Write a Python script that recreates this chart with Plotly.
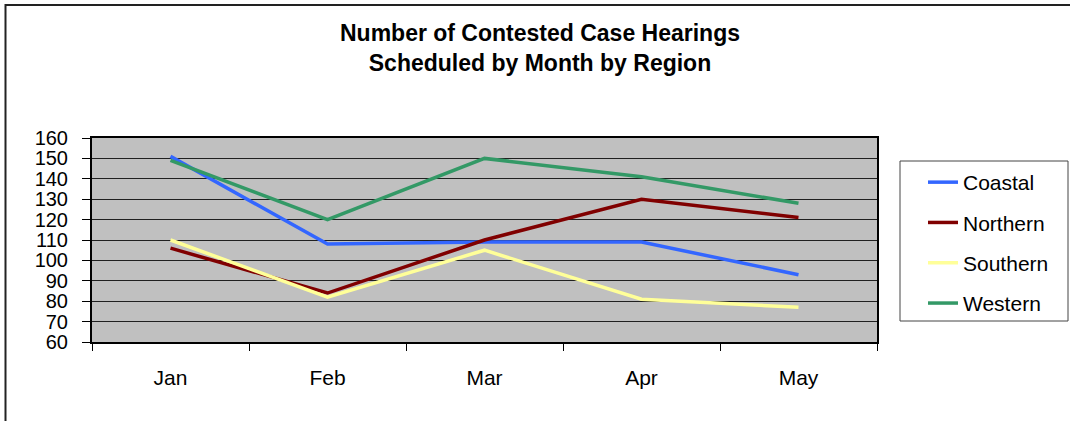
import plotly.graph_objects as go

months = ["Jan", "Feb", "Mar", "Apr", "May"]
coastal = [151, 108, 109, 109, 93]
northern = [106, 84, 110, 130, 121]
southern = [110, 82, 105, 81, 77]
western = [149, 120, 150, 141, 128]
series_names = ["Coastal", "Northern", "Southern", "Western"]
series_values = [coastal, northern, southern, western]
colors = ["#3366FF", "#800000", "#FFFF99", "#339966"]

W, H = 1070, 421
L, R, T, B = 92, 877, 138, 342
pw, ph = R - L, B - T

fig = go.Figure()
for name, vals, col in zip(series_names, series_values, colors):
    fig.add_trace(go.Scatter(x=months, y=vals, name=name, mode="lines",
                             legendgroup=name,
                             line=dict(color=col, width=3.5)))

FONT = "Liberation Sans, Arial, sans-serif"

def px_x(x):
    return (x - L) / pw

def px_y(y):
    return (B - y) / ph

fig.update_layout(
    width=W, height=H,
    margin=dict(l=L, r=W - R, t=T, b=H - B, pad=0),
    paper_bgcolor="white",
    plot_bgcolor="#C0C0C0",
    font=dict(family=FONT, color="black", size=20),
    title=dict(text="<b>Number of Contested Case Hearings<br>Scheduled by Month by Region</b>",
               x=540 / W, xanchor="center", xref="container",
               y=1 - 41 / H, yanchor="top", yref="container",
               font=dict(family=FONT, size=23, color="black")),
    showlegend=True,
    legend=dict(x=px_x(923), y=px_y(162), xanchor="left", yanchor="top",
                bgcolor="rgba(0,0,0,0)", borderwidth=0,
                tracegroupgap=10,
                font=dict(family=FONT, size=21, color="black")),
    xaxis=dict(type="category", range=[-0.5, 4.5], tickson="boundaries",
               ticks="outside", ticklen=7, tickcolor="black", tickwidth=1,
               showline=True, linecolor="black", linewidth=2, mirror=True,
               showgrid=False, ticklabelstandoff=16,
               tickfont=dict(family=FONT, size=21, color="black")),
    yaxis=dict(range=[60, 160], dtick=10, tick0=60,
               ticks="outside", ticklen=8, tickcolor="black", tickwidth=1,
               showline=True, linecolor="black", linewidth=2, mirror=True,
               showgrid=True, gridcolor="#202020", gridwidth=1,
               zeroline=False, ticklabelstandoff=10,
               tickfont=dict(family=FONT, size=20, color="black")),
    shapes=[
        dict(type="line", xref="paper", yref="paper",
             x0=px_x(5), x1=px_x(1075), y0=px_y(5), y1=px_y(5),
             line=dict(color="#222222", width=2)),
        dict(type="line", xref="paper", yref="paper",
             x0=px_x(5.5), x1=px_x(5.5), y0=px_y(4), y1=px_y(430),
             line=dict(color="#222222", width=2)),
        dict(type="rect", xref="paper", yref="paper",
             x0=px_x(900), x1=px_x(1068), y0=px_y(321), y1=px_y(161),
             line=dict(color="#444444", width=1), fillcolor="rgba(0,0,0,0)"),
    ],
)

fig.write_html("out.html", config={"displayModeBar": False},
               post_script="document.body.style.margin='0px';document.body.style.overflow='hidden';")
